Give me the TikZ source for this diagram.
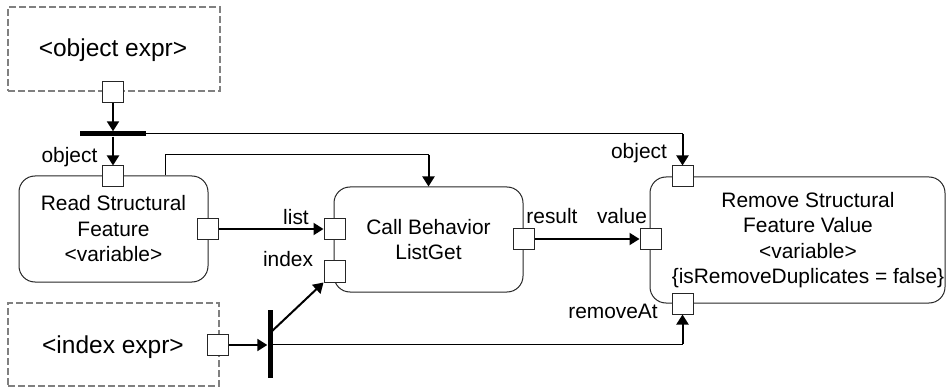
\documentclass[tikz,border=0pt]{standalone}
\usepackage{fontspec}
\setmainfont{Liberation Sans}
\usetikzlibrary{arrows.meta}
\begin{document}
\begin{tikzpicture}[x=1pt,y=-1pt,
 pinbox/.style={draw=black!85, fill=white, minimum width=21pt, minimum height=21pt, inner sep=0pt, line width=1pt},
 action/.style={draw=black!85, rounded corners=16pt, line width=1pt, inner sep=0pt, align=center, font=\fontsize{20.9}{25.5}\selectfont},
 expr/.style={draw=black!50, dash pattern=on 7pt off 3pt, line width=1.2pt, inner sep=0pt, font=\fontsize{24.5}{29}\selectfont},
 flow/.style={line width=2pt, -{Triangle[length=10pt,width=12pt]}},
 thinline/.style={line width=1pt},
 lbl/.style={font=\fontsize{20.9}{25}\selectfont, inner sep=0pt},
 bar/.style={fill=black, inner sep=0pt}
]
\useasboundingbox (0,0) rectangle (947,387);

% expression boxes
\node[expr, minimum width=212pt, minimum height=84pt] (objexpr) at (114,49) {};
\node[font=\fontsize{24.5}{29}\selectfont] (objtxt) at (113,50) {<object expr>};
\node[expr, minimum width=211pt, minimum height=83pt] (idxexpr) at (113.5,344.5) {};
\node[font=\fontsize{24.5}{29}\selectfont] (idxtxt) at (113,347) {<index expr>};

% actions
\node[action, minimum width=189pt, minimum height=106pt] (read) at (113.5,229) {Read Structural\\Feature\\<variable>};
\node[action, minimum width=189pt, minimum height=105pt] (call) at (428.5,239.5) {Call Behavior\\ListGet};
\node[action, minimum width=295pt, minimum height=126pt] (remove) at (797.5,240) {};
\node[align=center, font=\fontsize{20.9}{25.5}\selectfont, inner sep=0pt] (removetxt) at (808,240) {Remove Structural\\Feature Value\\<variable>\\\{isRemoveDuplicates = false\}};

% pins
\node[pinbox] (objpin) at (113,92) {};
\node[pinbox] (idxpin) at (218,345) {};
\node[pinbox] (readobj) at (113,176.5) {};
\node[pinbox] (readout) at (207.5,229) {};
\node[pinbox] (list) at (334.5,229) {};
\node[pinbox] (index) at (334.5,271.5) {};
\node[pinbox] (result) at (523.5,239) {};
\node[pinbox] (value) at (650.5,239) {};
\node[pinbox] (robj) at (682.5,176.5) {};
\node[pinbox] (removeat) at (682.5,303.5) {};

% forks
\node[bar, minimum width=66pt, minimum height=5pt] (fork1) at (113,134) {};
\node[bar, minimum width=5pt, minimum height=68pt] (fork2) at (270,344) {};

% labels
\node[lbl] (lobj1) at (69.5,157) {object};
\node[lbl] (llist) at (296,217) {list};
\node[lbl] (lindex) at (288,259) {index};
\node[lbl] (lresult) at (552,216) {result};
\node[lbl] (lvalue) at (622,216) {value};
\node[lbl] (lobj2) at (639,153) {object};
\node[lbl] (lremat) at (613,311) {removeAt};

% coordinates
\coordinate (c1) at (682.5,134);
\coordinate (c2) at (165,155);
\coordinate (c3) at (428.5,155);
\coordinate (c4) at (270,333);
\coordinate (c5) at (682.5,344);

% connectors
\draw[flow] (objpin.south) -- (fork1.north);
\draw[flow] (fork1.south) -- (readobj.north);
\draw[thinline] (fork1.east) -- (c1);
\draw[flow] (c1) -- (robj.north);
\draw[thinline] (read.north -| c2) -- (c2) -- (c3);
\draw[flow] (c3) -- (call.north);
\draw[flow] (readout.east) -- (list.west);
\draw[flow] (result.east) -- (value.west);
\draw[flow] (idxpin.east) -- (fork2.west |- idxpin.east);
\draw[flow] (c4) -- (index.south west);
\draw[thinline] (fork2.east |- c5) -- (c5);
\draw[flow] (c5) -- (removeat.south);
\end{tikzpicture}
\end{document}
